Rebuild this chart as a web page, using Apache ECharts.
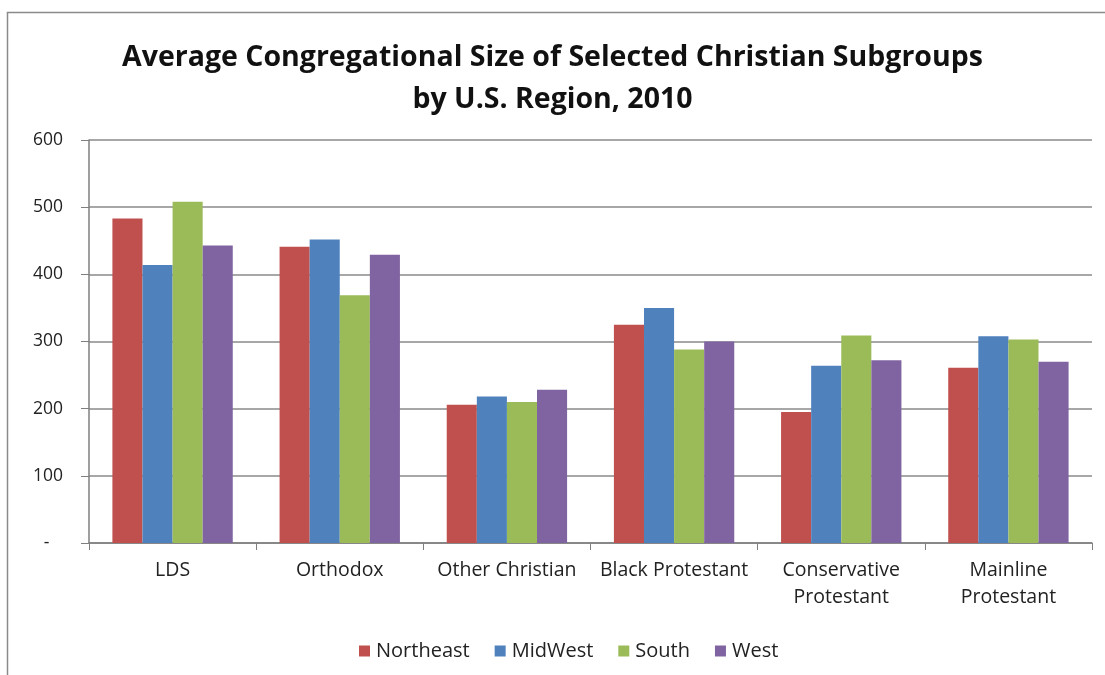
<!DOCTYPE html>
<html>
<head>
<meta charset="utf-8">
<script src="https://cdn.jsdelivr.net/npm/echarts@6/dist/echarts.min.js"></script>
<style>
  html, body { margin: 0; padding: 0; background: #fff; }
  #chart { width: 1105px; height: 675px; }
</style>
</head>
<body>
<div id="chart"></div>
<script>
// Christian subgroups along the category axis
const categories = ['LDS', 'Orthodox', 'Other Christian', 'Black Protestant', 'Conservative\nProtestant', 'Mainline\nProtestant'];

// Average congregational size per U.S. region
const northeast = [483, 441, 206, 325, 195, 261];
const midwest   = [414, 452, 218, 350, 264, 308];
const south     = [508, 369, 210, 288, 309, 303];
const west      = [443, 429, 228, 300, 272, 270];

const regionNames = ['Northeast', 'MidWest', 'South', 'West'];
const regionValues = [northeast, midwest, south, west];
const regionColors = ['#C0504D', '#4F81BD', '#9BBB59', '#8064A2'];

const font = '"Open Sans", "Liberation Sans", sans-serif';

const chart = echarts.init(document.getElementById('chart'), null, { renderer: 'canvas' });

chart.setOption({
  animation: false,
  backgroundColor: '#fff',
  title: {
    text: 'Average Congregational Size of Selected Christian Subgroups\nby U.S. Region, 2010',
    left: 'center',
    top: 32,
    textStyle: {
      fontFamily: font,
      fontSize: 28.5,
      fontWeight: 'bold',
      color: '#111',
      lineHeight: 42
    }
  },
  graphic: [{
    type: 'rect',
    shape: { x: 7.5, y: 12.5, width: 1200, height: 800 },
    style: { fill: 'none', stroke: '#8a8a8a', lineWidth: 1.5 },
    silent: true,
    z: 0
  }],
  legend: {
    data: regionNames,
    left: 354,
    top: 636,
    itemWidth: 11,
    itemHeight: 11,
    itemGap: 25,
    icon: 'rect',
    textStyle: { fontFamily: font, fontSize: 20, color: '#222', padding: [0, 0, 0, 1] }
  },
  grid: {
    left: 89,
    right: 13,
    top: 140,
    bottom: 132,
    containLabel: false
  },
  xAxis: {
    type: 'category',
    data: categories,
    axisLine: { lineStyle: { color: '#7f7f7f', width: 1.5 } },
    axisTick: { show: true, length: 7, alignWithLabel: false, lineStyle: { color: '#7f7f7f' } },
    axisLabel: {
      fontFamily: font,
      fontSize: 19.5,
      color: '#222',
      margin: 14,
      lineHeight: 27,
      interval: 0
    }
  },
  yAxis: {
    type: 'value',
    min: 0,
    max: 600,
    interval: 100,
    axisLine: { show: true, lineStyle: { color: '#7f7f7f', width: 1.5 } },
    axisTick: { show: true, inside: false, length: 8, lineStyle: { color: '#7f7f7f' } },
    splitLine: { lineStyle: { color: '#8a8a8a', width: 1.5 } },
    axisLabel: {
      fontFamily: font,
      fontSize: 17.5,
      color: '#222',
      margin: 26,
      formatter: function (v) { return v === 0 ? '-   ' : String(v); }
    }
  },
  series: regionNames.map(function (name, i) {
    return {
      name: name,
      type: 'bar',
      data: regionValues[i],
      barGap: '0%',
      barCategoryGap: '28%',
      itemStyle: { color: regionColors[i] }
    };
  })
});
</script>
</body>
</html>
